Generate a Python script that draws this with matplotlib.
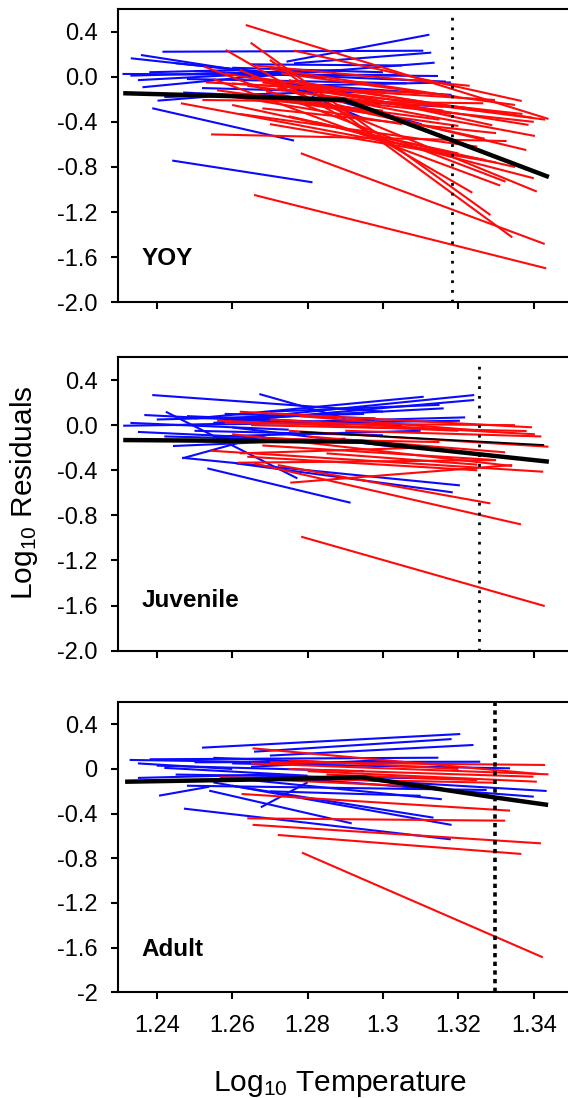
import matplotlib
matplotlib.use("Agg")
import matplotlib.pyplot as plt

plt.rcParams["font.family"] = ["Liberation Sans", "DejaVu Sans"]
plt.rcParams["axes.unicode_minus"] = False
plt.rcParams["mathtext.fontset"] = "custom"
plt.rcParams["mathtext.rm"] = "Liberation Sans"
plt.rcParams["mathtext.it"] = "Liberation Sans:italic"
plt.rcParams["mathtext.bf"] = "Liberation Sans:bold"

# segments are (x0, y0, x1, y1) in log10 temperature / log10 residuals
YOY_BLUE = [
    (1.2309, 0.025, 1.3146, 0.007), (1.2331, 0.164, 1.2700, 0.030),
    (1.2358, 0.193, 1.2690, 0.020), (1.2415, 0.222, 1.3107, 0.231),
    (1.2388, -0.279, 1.2764, -0.566), (1.2441, -0.743, 1.2813, -0.936),
    (1.2402, -0.212, 1.2560, -0.170), (1.2362, -0.093, 1.2650, 0.000),
    (1.2744, 0.134, 1.3123, 0.373), (1.2764, 0.119, 1.3128, 0.214),
    (1.2658, 0.000, 1.3137, 0.125), (1.2500, 0.050, 1.3167, -0.043),
    (1.2700, -0.050, 1.3182, -0.161), (1.2600, -0.160, 1.3160, -0.265),
    (1.2716, -0.060, 1.3103, -0.422), (1.2811, -0.176, 1.2948, -0.368),
    (1.2550, 0.020, 1.3059, 0.016), (1.2480, -0.020, 1.3063, -0.058),
    (1.2330, 0.010, 1.2900, 0.060), (1.2350, -0.030, 1.2800, 0.050),
    (1.2420, -0.180, 1.3000, -0.120), (1.2450, 0.120, 1.2850, -0.010),
    (1.2600, 0.080, 1.3000, 0.040), (1.2520, -0.100, 1.2950, -0.140),
    (1.2650, 0.110, 1.3050, 0.100), (1.2380, 0.040, 1.2620, 0.060),
    (1.2470, -0.140, 1.2900, -0.200), (1.2750, -0.080, 1.3180, -0.050),
]
YOY_RED = [
    (1.2636, 0.459, 1.3439, -0.374), (1.2649, 0.302, 1.3285, -1.226),
    (1.2583, 0.238, 1.3237, -1.028), (1.2700, 0.150, 1.3343, -1.424),
    (1.2764, 0.232, 1.3368, -0.215), (1.2526, 0.090, 1.3325, -0.930),
    (1.2464, -0.235, 1.3271, -0.738), (1.2544, -0.511, 1.3328, -0.570),
    (1.2782, -0.678, 1.3429, -1.483), (1.2658, -1.048, 1.3433, -1.699),
    (1.2600, -0.060, 1.3297, -0.206), (1.2521, -0.206, 1.3266, -0.235),
    (1.2650, 0.000, 1.3395, -0.362), (1.2680, -0.050, 1.3386, -0.427),
    (1.2720, -0.100, 1.3403, -0.525), (1.2600, -0.150, 1.3218, -0.274),
    (1.2700, -0.200, 1.3200, -0.436), (1.2550, -0.020, 1.3311, -0.965),
    (1.2620, 0.060, 1.3408, -1.018), (1.2580, 0.030, 1.3180, -0.330),
    (1.2640, -0.080, 1.3160, -0.300), (1.2700, 0.070, 1.3200, -0.180),
    (1.2750, -0.030, 1.3250, -0.300), (1.2560, -0.120, 1.3150, -0.380),
    (1.2800, -0.120, 1.3370, -0.330), (1.2850, -0.200, 1.3400, -0.400),
    (1.2900, -0.150, 1.3430, -0.380), (1.2680, -0.280, 1.3300, -0.500),
    (1.2620, -0.330, 1.3250, -0.620), (1.2750, -0.350, 1.3350, -0.800),
    (1.2820, -0.400, 1.3400, -0.900), (1.2700, -0.420, 1.3300, -0.760),
    (1.2600, -0.250, 1.3200, -0.680), (1.2880, -0.250, 1.3380, -0.650),
    (1.2530, -0.050, 1.3130, -0.150), (1.2660, 0.100, 1.3230, -0.080),
    (1.2730, 0.030, 1.3350, -0.250), (1.2610, -0.180, 1.3050, -0.420),
    (1.2780, -0.060, 1.3290, -0.430), (1.2500, -0.150, 1.3000, -0.300),
    (1.2690, -0.130, 1.3270, -0.550),
]
YOY_FIT_X = [1.2311, 1.2600, 1.2898, 1.3182, 1.3440]
YOY_FIT_Y = [-0.146, -0.172, -0.205, -0.562, -0.889]
YOY_CUT = 1.3182

JUV_BLUE = [
    (1.2388, 0.267, 1.3000, 0.120), (1.2672, 0.276, 1.2900, 0.060),
    (1.2500, 0.060, 1.3108, 0.252), (1.2600, 0.050, 1.3242, 0.267),
    (1.2550, 0.020, 1.3242, 0.223), (1.2650, 0.060, 1.3161, 0.149),
    (1.2450, 0.000, 1.3218, 0.069), (1.2311, -0.005, 1.3204, 0.039),
    (1.2367, 0.090, 1.2900, 0.000), (1.2424, 0.119, 1.2773, -0.472),
    (1.2468, -0.294, 1.2700, -0.080), (1.2467, -0.289, 1.3204, -0.534),
    (1.2534, -0.383, 1.2914, -0.688), (1.2611, -0.339, 1.3185, -0.596),
    (1.2443, -0.185, 1.2900, -0.120), (1.2500, -0.050, 1.3000, -0.090),
    (1.2330, 0.020, 1.2750, -0.040), (1.2400, 0.050, 1.2950, 0.100),
    (1.2550, -0.100, 1.3100, -0.050), (1.2600, -0.020, 1.3050, -0.200),
    (1.2350, -0.060, 1.2800, -0.130), (1.2700, 0.120, 1.3150, 0.180),
    (1.2480, 0.080, 1.3050, 0.000), (1.2580, 0.100, 1.2980, 0.060),
    (1.2420, -0.100, 1.2650, -0.120),
]
JUV_RED = [
    (1.2783, -0.989, 1.3429, -1.604), (1.2721, -0.354, 1.3285, -0.694),
    (1.2658, -0.339, 1.3366, -0.880), (1.2754, -0.510, 1.3343, -0.354),
    (1.2615, -0.333, 1.3300, -0.310), (1.2544, -0.227, 1.3425, -0.413),
    (1.2620, 0.119, 1.3395, -0.019), (1.2700, 0.050, 1.3403, -0.081),
    (1.2650, 0.000, 1.3381, -0.052), (1.2750, -0.050, 1.3439, -0.191),
    (1.2560, 0.040, 1.3200, -0.050), (1.2600, -0.080, 1.3342, -0.362),
    (1.2800, -0.100, 1.3324, -0.241), (1.2680, -0.180, 1.3297, -0.309),
    (1.2850, -0.250, 1.3250, -0.350), (1.2620, -0.250, 1.3100, -0.200),
    (1.2900, -0.050, 1.3420, -0.100), (1.2700, -0.120, 1.3150, -0.150),
    (1.2580, 0.020, 1.3350, 0.000), (1.2780, 0.080, 1.3300, -0.060),
    (1.2640, -0.280, 1.3250, -0.400),
]
JUV_THIN = (1.2783, -0.060, 1.3425, -0.176)
JUV_FIT_X = [1.2311, 1.2945, 1.3440]
JUV_FIT_Y = [-0.132, -0.147, -0.324]
JUV_CUT = 1.3255

ADU_BLUE = [
    (1.2520, 0.191, 1.3205, 0.313), (1.2658, 0.155, 1.3182, 0.268),
    (1.2700, 0.120, 1.3240, 0.215), (1.2328, 0.081, 1.2900, 0.050),
    (1.2381, 0.087, 1.3147, 0.101), (1.2406, -0.239, 1.2539, -0.159),
    (1.2676, -0.343, 1.2800, -0.120), (1.2472, -0.355, 1.3180, -0.630),
    (1.2539, -0.194, 1.2917, -0.487), (1.2600, -0.150, 1.3134, -0.436),
    (1.2550, -0.120, 1.3182, -0.501), (1.2650, -0.100, 1.3156, -0.271),
    (1.2700, -0.050, 1.3434, -0.197), (1.2750, -0.080, 1.3400, -0.248),
    (1.2600, 0.050, 1.3337, 0.006), (1.2500, 0.060, 1.3258, 0.065),
    (1.2450, -0.050, 1.3249, -0.090), (1.2350, -0.080, 1.2700, -0.050),
    (1.2400, 0.030, 1.2950, -0.020), (1.2550, 0.100, 1.2850, 0.060),
    (1.2480, -0.150, 1.3275, -0.188), (1.2650, 0.020, 1.3000, 0.080),
    (1.2420, 0.010, 1.2800, -0.060), (1.2700, -0.200, 1.3100, -0.240),
    (1.2350, 0.050, 1.2600, 0.000),
]
ADU_RED = [
    (1.2785, -0.749, 1.3424, -1.687), (1.2721, -0.591, 1.3367, -0.761),
    (1.2640, -0.442, 1.3324, -0.463), (1.2654, -0.500, 1.3419, -0.666),
    (1.2625, -0.224, 1.3337, -0.373), (1.2654, 0.185, 1.3414, -0.045),
    (1.2700, 0.060, 1.3430, 0.036), (1.2650, 0.050, 1.3439, -0.048),
    (1.2750, 0.000, 1.3399, -0.069), (1.2800, -0.020, 1.3408, -0.114),
    (1.2567, -0.075, 1.3297, -0.123), (1.2850, -0.050, 1.3250, -0.100),
    (1.2600, -0.080, 1.3050, -0.150), (1.2750, 0.080, 1.3200, 0.000),
]
ADU_FIT_X = [1.2316, 1.2650, 1.2945, 1.3295, 1.3438]
ADU_FIT_Y = [-0.114, -0.095, -0.075, -0.254, -0.322]
ADU_CUT = 1.3297

X_TICKS = [1.24, 1.26, 1.28, 1.30, 1.32, 1.34]
X_TICKLABELS = ["1.24", "1.26", "1.28", "1.3", "1.32", "1.34"]
Y_TICKS = [0.4, 0.0, -0.4, -0.8, -1.2, -1.6, -2.0]
Y_LABELS_1DEC = ["0.4", "0.0", "-0.4", "-0.8", "-1.2", "-1.6", "-2.0"]
Y_LABELS_SHORT = ["0.4", "0", "-0.4", "-0.8", "-1.2", "-1.6", "-2"]

BLUE = "#0a0aff"
RED = "#ff0a0a"

fig = plt.figure(figsize=(5.68, 10.98), dpi=100)

panels = [
    ("YOY", YOY_BLUE, YOY_RED, None, YOY_FIT_X, YOY_FIT_Y, YOY_CUT,
     [0.2083, 0.72468, 0.8629, 0.26703], Y_LABELS_1DEC, -1.668, 0.54, 2.0, (0, (1, 2.5))),
    ("Juvenile", JUV_BLUE, JUV_RED, JUV_THIN, JUV_FIT_X, JUV_FIT_Y, JUV_CUT,
     [0.2083, 0.40738, 0.8629, 0.26703], Y_LABELS_1DEC, -1.61, 0.54, 2.0, (0, (1, 2.5))),
    ("Adult", ADU_BLUE, ADU_RED, None, ADU_FIT_X, ADU_FIT_Y, ADU_CUT,
     [0.2083, 0.09627, 0.8629, 0.26439], Y_LABELS_SHORT, -1.674, 0.6, 2.6, (0, (1.2, 1.2))),
]

for i, (name, blues, reds, thin, fx, fy, cut, pos, ylabels, label_y,
        cut_top, cut_lw, cut_ls) in enumerate(panels):
    ax = fig.add_axes(pos)
    for x0, y0, x1, y1 in blues:
        ax.plot([x0, x1], [y0, y1], color=BLUE, lw=1.5, solid_capstyle="butt")
    for x0, y0, x1, y1 in reds:
        ax.plot([x0, x1], [y0, y1], color=RED, lw=1.5, solid_capstyle="butt")
    if thin is not None:
        ax.plot([thin[0], thin[2]], [thin[1], thin[3]], color="black", lw=1.3)
    ax.plot(fx, fy, color="black", lw=3.2, solid_capstyle="butt")
    ax.plot([cut, cut], [-2.0, cut_top], color="black", lw=cut_lw, linestyle=cut_ls)

    ax.text(1.2359, label_y, name, fontsize=17.5, fontweight="bold", va="baseline", ha="left")

    ax.set_xlim(1.2298, 1.3598)
    ax.set_ylim(-2.0, 0.6)
    ax.set_xticks(X_TICKS)
    if i == 2:
        ax.set_xticklabels(X_TICKLABELS)
    else:
        ax.set_xticklabels([])
    ax.set_yticks(Y_TICKS)
    ax.set_yticklabels(ylabels)
    ax.tick_params(axis="both", direction="out", length=5, width=1.5, labelsize=17, pad=10)
    ax.tick_params(axis="x", pad=11)
    for side in ["left", "bottom", "top", "right"]:
        ax.spines[side].set_linewidth(1.5)

fig.text(24 / 568, 1 - 493 / 1098, r"Log$_{\mathrm{10}}$ Residuals", rotation=90,
         ha="center", va="center", fontsize=21.5)
fig.text(340 / 568, 1 - 1091 / 1098, r"Log$_{\mathrm{10}}$ Temperature",
         ha="center", va="baseline", fontsize=21.5)

fig.savefig("out.png", dpi=100)
